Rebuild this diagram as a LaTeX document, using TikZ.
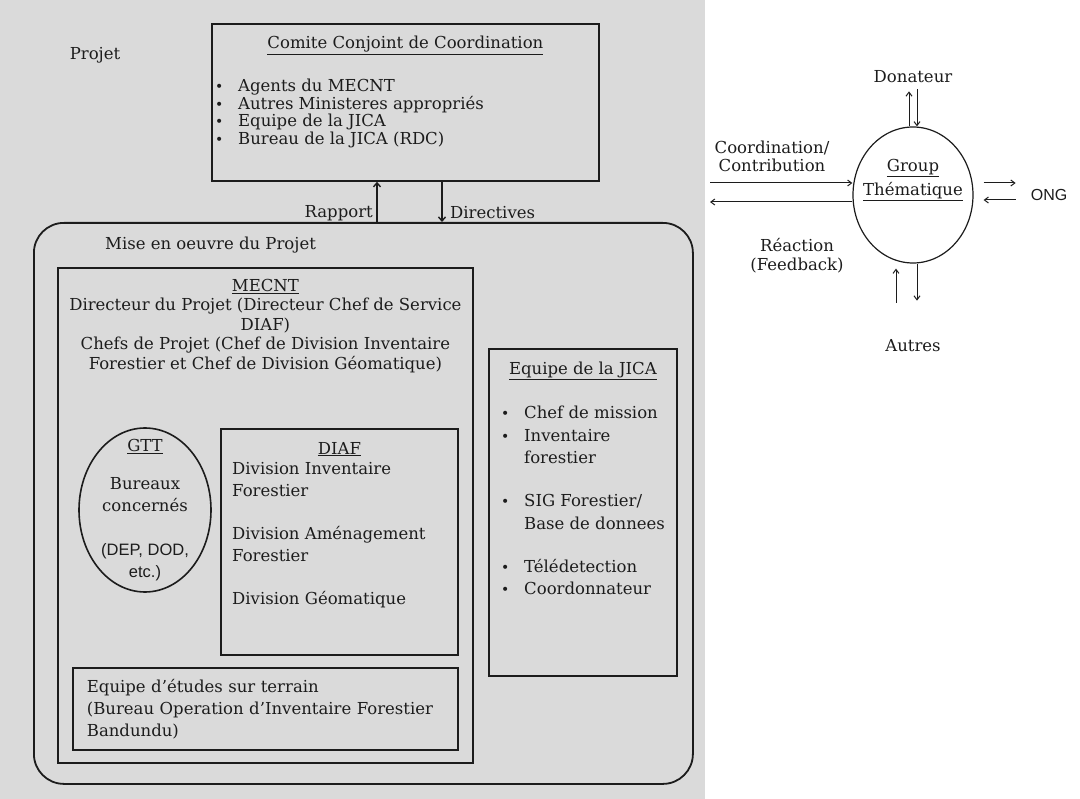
\documentclass[tikz,border=0pt]{standalone}
\usepackage{fontspec}
\setmainfont{DejaVu Serif}
\newfontfamily\sansfont{Liberation Sans}
\usetikzlibrary{arrows.meta,positioning,shapes.geometric}
\definecolor{Paper}{HTML}{DADADA}
\definecolor{Ink}{HTML}{1C1C1C}
\newcommand{\puce}{\makebox[23pt][l]{\fontsize{14}{14}\selectfont\textbullet}}
\newcommand{\retrait}{\hspace*{23pt}}
\tikzset{
 panel/.style={draw=Ink, line width=1.8pt, inner sep=0pt, anchor=north west},
 bodytext/.style={font=\fontsize{16.5}{#1}\selectfont, text=Ink, inner sep=0pt},
 bodytext/.default=20,
 sanstext/.style={font=\sansfont\fontsize{16}{21}\selectfont, text=Ink, inner sep=0pt},
 link/.style={-{Straight Barb[length=4pt,width=7pt]}, line width=1.4pt, draw=Ink},
 thinlink/.style={-{Straight Barb[length=4pt,width=6pt]}, line width=1pt, draw=Ink}
}

\begin{document}
\begin{tikzpicture}[x=1pt,y=-1pt]
\useasboundingbox (0,0) rectangle (1080,799);
\fill[Paper] (0,0) rectangle (705,799);

\node[bodytext] (projet) at (95,55) {Projet};

\node[panel, minimum width=387pt, minimum height=157pt] (comite) at (211,23) {};
\node[bodytext, below=13pt of comite.north] (comitetitle) {\underline{Comite Conjoint de Coordination}};
\node[bodytext=17.5, align=left, anchor=north west] (comitelist) at (215,79) {\puce Agents du MECNT\\\puce Autres Ministeres appropriés\\\puce Equipe de la JICA\\\puce Bureau de la JICA (RDC)};

\node[panel, rounded corners=30pt, minimum width=659pt, minimum height=561pt] (mise) at (33,222) {};
\node[bodytext, anchor=west] (misetitle) at (105,245) {Mise en oeuvre du Projet};

\coordinate (rapport) at (377,200);
\coordinate (directives) at (442,200);
\draw[link] (rapport |- mise.north) -- (rapport |- comite.south);
\draw[link] (directives |- comite.south) -- (directives |- mise.north);
\node[bodytext, anchor=east] (rapportlbl) at (373,213) {Rapport};
\node[bodytext, anchor=west] (directiveslbl) at (450,213) {Directives};

\node[panel, minimum width=415pt, minimum height=495pt] (mecnt) at (57,267) {};
\node[bodytext=19.5, align=center, below=12pt of mecnt.north] (mecnttext) {\underline{MECNT}\\Directeur du Projet (Directeur Chef de Service\\DIAF)\\Chefs de Projet (Chef de Division Inventaire\\Forestier et Chef de Division Géomatique)};

\node[draw=Ink, line width=1.6pt, ellipse, minimum width=132pt, minimum height=164pt] (gtt) at (145,510) {};
\node[bodytext=22, align=center] (gtttext) at (gtt.center) {\underline{GTT}\\[16pt]Bureaux\\concernés\\[22pt]{\sansfont (DEP, DOD,}\\{\sansfont etc.)}};

\node[panel, minimum width=237pt, minimum height=226pt] (diaf) at (220,428) {};
\node[bodytext, below=14pt of diaf.north] (diaftitle) {\underline{DIAF}};
\node[bodytext=22.5, align=left, anchor=north west] (diaflist) at (232,462) {Division Inventaire\\Forestier\\[20pt]Division Aménagement\\Forestier\\[20pt]Division Géomatique};

\node[panel, bodytext=22, align=left, text width=357pt, inner xsep=14pt, minimum height=82pt] (terrain) at (72,667) {Equipe d'études sur terrain\\(Bureau Operation d'Inventaire Forestier\\Bandundu)};

\node[panel, minimum width=188pt, minimum height=327pt] (jica) at (488,348) {};
\node[bodytext, below=14pt of jica.north] (jicatitle) {\underline{Equipe de la JICA}};
\node[bodytext=22.5, align=left, anchor=north west] (jicalist) at (501,406) {\puce Chef de mission\\\puce Inventaire\\\retrait forestier\\[20.5pt]\puce SIG Forestier/\\\retrait Base de donnees\\[20.5pt]\puce Télédetection\\\puce Coordonnateur};

\node[draw=Ink, line width=1.2pt, ellipse, minimum width=120pt, minimum height=136pt, inner sep=0pt] (group) at (913,195) {};
\node[bodytext=24, align=center] (grouptext) at (913,180) {\underline{Group}\\\underline{Thématique}};
\node[bodytext, above=43pt of group] (donateur) {Donateur};
\node[bodytext, below=76pt of group] (autres) {Autres};
\node[sanstext, right=57pt of group] (ong) {ONG};
\coordinate (gauche) at (710,195);
\node[bodytext=18, align=center] (coordlbl) at (772,156) {Coordination/\\Contribution};
\node[bodytext=19, align=center] (reactionlbl) at (797,256) {Réaction\\(Feedback)};

\draw[thinlink] ([yshift=12pt]gauche) -- ([yshift=12pt]group.west);
\draw[thinlink] ([yshift=-7pt]group.west) -- ([yshift=-7pt]gauche);
\draw[thinlink, shorten >=8pt] ([xshift=-4pt]group.north) -- ([xshift=-4pt]donateur.south);
\draw[thinlink, shorten <=6pt] ([xshift=4pt]donateur.south) -- ([xshift=4pt]group.north);
\draw[thinlink, shorten <=10pt, shorten >=15pt] ([yshift=12pt]group.east) -- ([yshift=12pt]ong.west);
\draw[thinlink, shorten <=15pt, shorten >=10pt] ([yshift=-5pt]ong.west) -- ([yshift=-5pt]group.east);
\draw[thinlink, shorten <=37pt, shorten >=5pt] ([xshift=-17pt]autres.north) -- ([xshift=-17pt]group.south);
\draw[thinlink, shorten >=39pt] ([xshift=4pt]group.south) -- ([xshift=4pt]autres.north);
\end{tikzpicture}
\end{document}
